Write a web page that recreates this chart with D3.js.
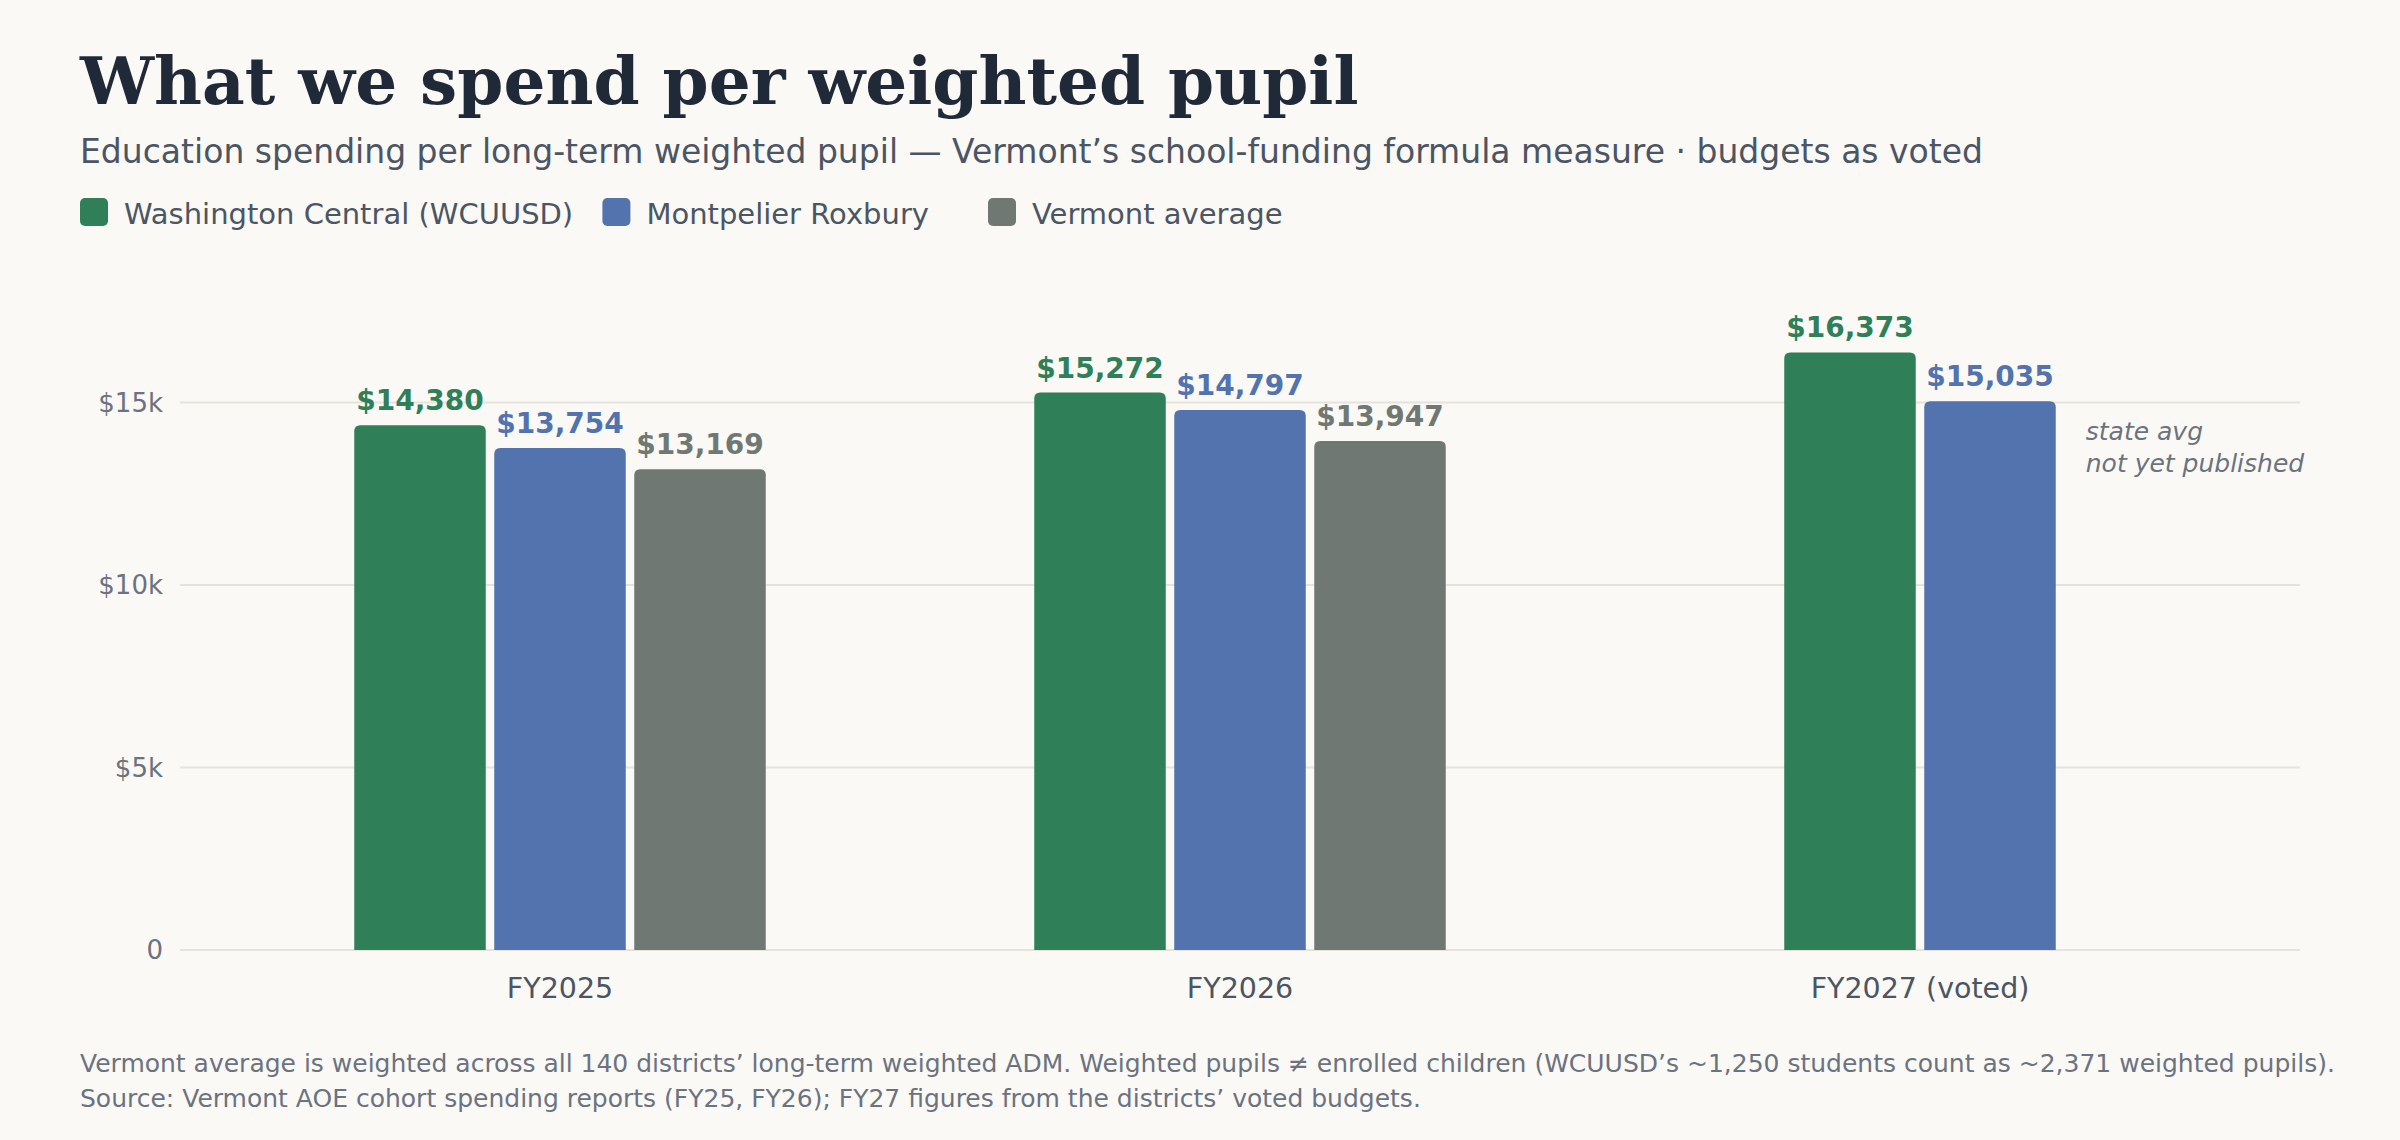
<!DOCTYPE html>
<html>
<head>
<meta charset="utf-8">
<script src="https://cdn.jsdelivr.net/npm/d3@7"></script>
<style>
  body { margin: 0; background: #faf9f5; }
  svg { display: block; }
</style>
</head>
<body>
<svg id="chart" width="2400" height="1140"></svg>
<script>
// data
var years = ["FY2025", "FY2026", "FY2027 (voted)"];
var seriesNames = ["Washington Central (WCUUSD)", "Montpelier Roxbury", "Vermont average"];
var wcuusd = [14380, 15272, 16373];
var montpelier = [13754, 14797, 15035];
var vtAverage = [13169, 13947, null];
var yTicks = [0, 5000, 10000, 15000];
var colors = ["#2f7f59", "#5273ae", "#6f7873"];

var W = 2400, H = 1140;
var plotLeft = 180, plotRight = 2300, plotTop = 293, plotBottom = 950;

var svg = d3.select("#chart");
svg.append("rect").attr("width", W).attr("height", H).attr("fill", "#faf9f5");

// title + subtitle
svg.append("text")
    .attr("x", 80).attr("y", 104)
    .attr("font-family", "DejaVu Serif")
    .attr("font-weight", "bold")
    .attr("font-size", 66)
    .attr("fill", "#1f2937")
    .text("What we spend per weighted pupil");
svg.append("text")
    .attr("x", 80).attr("y", 163)
    .attr("font-family", "DejaVu Sans")
    .attr("font-size", 33)
    .attr("fill", "#4b5563")
    .text("Education spending per long-term weighted pupil \u2014 Vermont\u2019s school-funding formula measure \u00b7 budgets as voted");

// legend (width estimated from label length)
var lx = 80;
seriesNames.forEach(function(name, i){
    svg.append("rect")
        .attr("x", lx).attr("y", 198)
        .attr("width", 28).attr("height", 28)
        .attr("rx", 5)
        .attr("fill", colors[i]);
    svg.append("text")
        .attr("x", lx + 44).attr("y", 224)
        .attr("font-family", "DejaVu Sans")
        .attr("font-size", 29)
        .attr("fill", "#4b5563")
        .text(name);
    lx += 112 + name.length * 15.2;
});

// scales
var y = d3.scaleLinear().domain([0, 18000]).range([plotBottom, plotTop]);
var x0 = d3.scaleBand().domain(years).range([plotLeft, plotRight])
    .paddingInner(0).paddingOuter(40 / 680);

var grid = svg.append("g");
yTicks.forEach(function(t){
    grid.append("line")
        .attr("x1", plotLeft).attr("x2", plotRight)
        .attr("y1", y(t)).attr("y2", y(t))
        .attr("stroke", "#e6e3dc").attr("stroke-width", 2);
    grid.append("text")
        .attr("x", plotLeft - 17).attr("y", y(t) + 9)
        .attr("text-anchor", "end")
        .attr("font-family", "DejaVu Sans")
        .attr("font-size", 26)
        .attr("fill", "#6b7280")
        .text(t === 0 ? "0" : "$" + (t / 1000) + "k");
});

var allSeries = [wcuusd, montpelier, vtAverage];
var step = 140, gap = 8.5;

function topRounded(x, yTop, w, h, r){
    return "M" + x + "," + (yTop + h) +
        "V" + (yTop + r) +
        "Q" + x + "," + yTop + " " + (x + r) + "," + yTop +
        "H" + (x + w - r) +
        "Q" + (x + w) + "," + yTop + " " + (x + w) + "," + (yTop + r) +
        "V" + (yTop + h) + "Z";
}

var fmt = d3.format(",");

years.forEach(function(yr, gi){
    var present = [];
    allSeries.forEach(function(s, si){ if(s[gi] !== null) present.push(si); });
    var n = present.length;
    var c = x0(yr) + x0.bandwidth() / 2;
    var span = n * step - gap;
    var x1 = d3.scaleBand().domain(present).range([c - span / 2, c + span / 2])
        .paddingInner(gap / step).paddingOuter(0);
    var g = svg.append("g");
    present.forEach(function(si){
        var v = allSeries[si][gi];
        g.append("path")
            .attr("d", topRounded(x1(si), y(v), x1.bandwidth(), y(0) - y(v), 6))
            .attr("fill", colors[si]);
        g.append("text")
            .attr("x", x1(si) + x1.bandwidth() / 2)
            .attr("y", y(v) - 15)
            .attr("text-anchor", "middle")
            .attr("font-family", "DejaVu Sans")
            .attr("font-weight", "bold")
            .attr("font-size", 28)
            .attr("fill", colors[si])
            .text("$" + fmt(v));
    });
    svg.append("text")
        .attr("x", c).attr("y", 998)
        .attr("text-anchor", "middle")
        .attr("font-family", "DejaVu Sans")
        .attr("font-size", 28.5)
        .attr("fill", "#4b5563")
        .text(yr);
    if(n < allSeries.length){
        var ax = x1(present[n - 1]) + x1.bandwidth() + 30;
        var note = svg.append("text")
            .attr("font-family", "DejaVu Sans")
            .attr("font-style", "italic")
            .attr("font-size", 25)
            .attr("fill", "#6b7280");
        note.append("tspan").attr("x", ax).attr("y", 440).text("state avg");
        note.append("tspan").attr("x", ax).attr("y", 472).text("not yet published");
    }
});

// footnotes
svg.append("text")
    .attr("x", 80).attr("y", 1072)
    .attr("font-family", "DejaVu Sans")
    .attr("font-size", 25)
    .attr("fill", "#6b7280")
    .text("Vermont average is weighted across all 140 districts\u2019 long-term weighted ADM. Weighted pupils \u2260 enrolled children (WCUUSD\u2019s ~1,250 students count as ~2,371 weighted pupils).");
svg.append("text")
    .attr("x", 80).attr("y", 1107)
    .attr("font-family", "DejaVu Sans")
    .attr("font-size", 25)
    .attr("fill", "#6b7280")
    .text("Source: Vermont AOE cohort spending reports (FY25, FY26); FY27 figures from the districts\u2019 voted budgets.");
</script>
</body>
</html>
